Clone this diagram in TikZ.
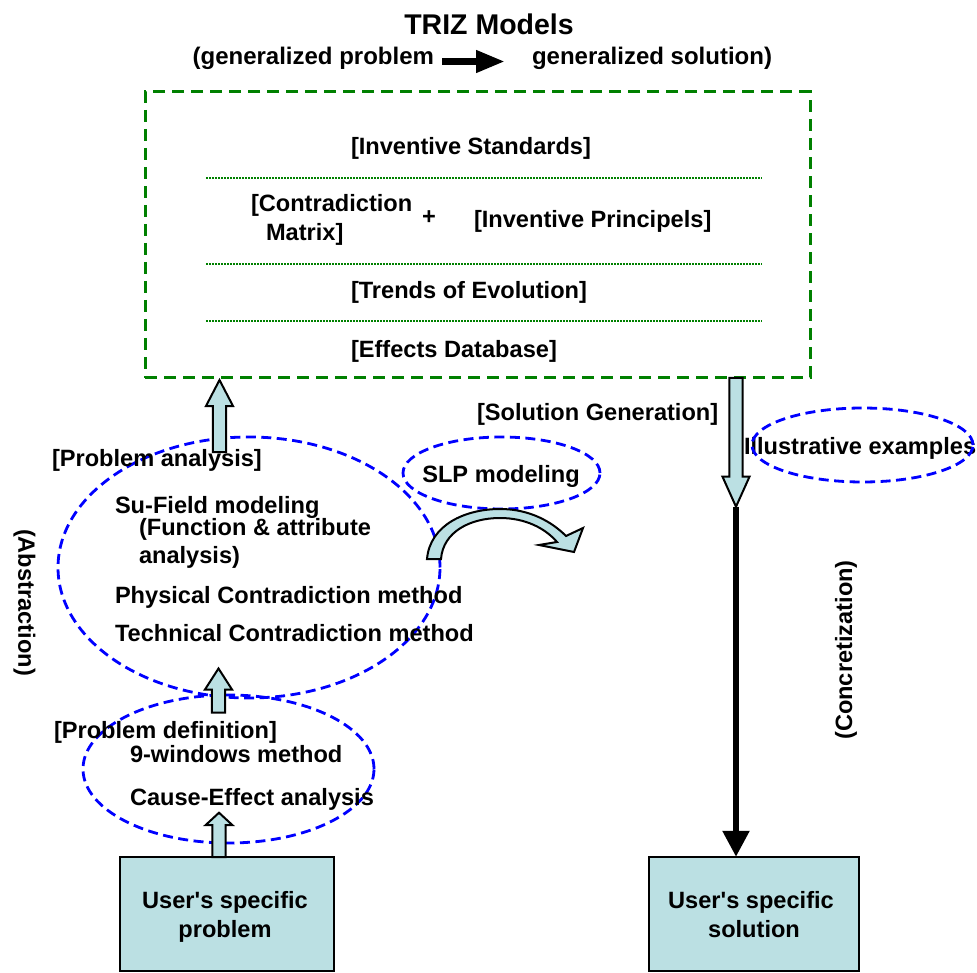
\documentclass[tikz,border=0pt]{standalone}
\usepackage{fontspec}
\setmainfont{Liberation Sans}[Ligatures=TeXOff]
\usetikzlibrary{shapes.geometric,arrows.meta,calc}
\definecolor{boxfill}{RGB}{187,224,227}
\definecolor{trizgreen}{RGB}{0,128,0}
\definecolor{methblue}{RGB}{0,0,255}

% vertical block arrow: x, tail y, tip y, head length
\newcommand{\vblockarrow}[4]{%
  \pgfmathsetmacro{\hbase}{#3+sign(#2-#3)*#4}%
  \draw[blockarrow] (#1-6.6,#2) -- (#1-6.6,\hbase) -- (#1-13.5,\hbase) -- (#1,#3)
    -- (#1+13.5,\hbase) -- (#1+6.6,\hbase) -- (#1+6.6,#2) -- cycle;}

\begin{document}
\begin{tikzpicture}[x=1pt, y=-1pt,
  every node/.style={inner sep=0pt, outer sep=0pt},
  txt/.style={font=\fontsize{23.6}{28}\selectfont\bfseries},
  ttl/.style={font=\fontsize{28.5}{32}\selectfont\bfseries},
  sub/.style={font=\fontsize{24}{28}\selectfont\bfseries},
  ell/.style={ellipse, draw=methblue, line width=2.8pt, dash pattern=on 10pt off 5.5pt},
  sepline/.style={draw=trizgreen, line width=1.2pt, dash pattern=on 2pt off 1pt},
  blockarrow/.style={draw=black, fill=boxfill, line width=2pt, line join=miter},
  userbox/.style={draw=black, line width=2pt, fill=boxfill, minimum height=114.5pt}]

\useasboundingbox (0,0) rectangle (977,973);

% heading
\node[ttl, anchor=base] (title) at (489,35) {TRIZ Models};
\node[sub, anchor=base east] (gprob) at (434,65) {(generalized problem};
\node[sub, anchor=base west] (gsol) at (532,65) {generalized solution)};
\coordinate (ga) at (442,61.5);
\coordinate (gb) at (505,61.5);
\draw[line width=7pt, -{Triangle[length=29pt,width=21pt]}] (ga) -- (gb);

% TRIZ models frame
\node[draw=trizgreen, line width=3pt, dash pattern=on 12pt off 7pt,
      minimum width=665pt, minimum height=286pt] (triz) at (477.5,235) {};
\draw[sepline] (206,178) -- (762,178);
\draw[sepline] (206,264) -- (762,264);
\draw[sepline] (206,321) -- (762,321);

\node[txt, anchor=base west] (stand) at (351,154.5) {[Inventive Standards]};
\node[txt, anchor=base west] (contr) at (251,212) {[Contradiction};
\node[txt, anchor=base west] (matrix) at (266,241) {Matrix]};
\node[txt, anchor=base] (plus) at (429,225) {+};
\node[txt, anchor=base west] (princ) at (474,228) {[Inventive Principels]};
\node[txt, anchor=base west] (trends) at (351,298.5) {[Trends of Evolution]};
\node[txt, anchor=base west] (effects) at (351,357.5) {[Effects Database]};

% solution generation side
\node[txt, anchor=base west] (solgen) at (477,420.5) {[Solution Generation]};
\vblockarrow{736}{378}{506.7}{30}
\node[txt, anchor=base west] (illus) at (744,454.5) {Illustrative examples};
\node[ell, minimum width=221pt, minimum height=74pt] (illell) at (862.5,445) {};

% problem analysis
\node[ell, minimum width=382pt, minimum height=261pt] (paell) at (249,567.5) {};
\node[txt, anchor=base west] (panal) at (52,466.5) {[Problem analysis]};
\node[txt, anchor=base west] (sufield) at (115,513.5) {Su-Field modeling};
\node[txt, anchor=base west] (func) at (139,535.5) {(Function \& attribute};
\node[txt, anchor=base west] (anal) at (139,563) {analysis)};
\node[txt, anchor=base west] (phys) at (115,603.5) {Physical Contradiction method};
\node[txt, anchor=base west] (tech) at (115,641.7) {Technical Contradiction method};

\node[ell, minimum width=197pt, minimum height=72pt] (slpell) at (501.5,473) {};
\node[txt, anchor=base] (slp) at (501,482.5) {SLP modeling};

% problem definition
\node[ell, minimum width=291pt, minimum height=148pt] (pdell) at (228.5,769) {};
\node[txt, anchor=base west] (pdef) at (54,738.5) {[Problem definition]};
\node[txt, anchor=base west] (nine) at (130,762) {9-windows method};
\node[txt, anchor=base west] (cause) at (130,805) {Cause-Effect analysis};

% side labels
\node[txt, rotate=-90] (abstr) at (24.5,602.5) {(Abstraction)};
\node[txt, rotate=90] (concr) at (846,650) {(Concretization)};

% user boxes
\node[userbox, minimum width=214pt] (uprob) at (227,914) {};
\node[txt, anchor=base] (up1) at (225,908) {User's specific};
\node[txt, anchor=base] (up2) at (225,937) {problem};
\node[userbox, minimum width=210pt] (usol) at (754,914) {};
\node[txt, anchor=base] (us1) at (751,908) {User's specific};
\node[txt, anchor=base] (us2) at (754,937) {solution};

% block arrows of the abstraction path
\vblockarrow{219.5}{452}{380}{26}
\vblockarrow{218.5}{712.5}{668.5}{21}
\vblockarrow{219}{857}{812.7}{12.5}

% curved arrow from the analysis ellipse
\draw[blockarrow] (427,559) .. controls (430,525) and (465,509) .. (500,509)
  .. controls (530,509) and (552,522) .. (566,536) -- (583,528) -- (574,552)
  -- (539,545) -- (557,542) .. controls (545,528) and (525,518) .. (500,518)
  .. controls (470,518) and (443,532) .. (441,559) -- cycle;

% concretization connector
\coordinate (dtip) at (736,506.7);
\draw[line width=5.5pt, -{Triangle[length=26pt,width=26pt]}] (dtip) -- (dtip |- usol.north);
\end{tikzpicture}
\end{document}
